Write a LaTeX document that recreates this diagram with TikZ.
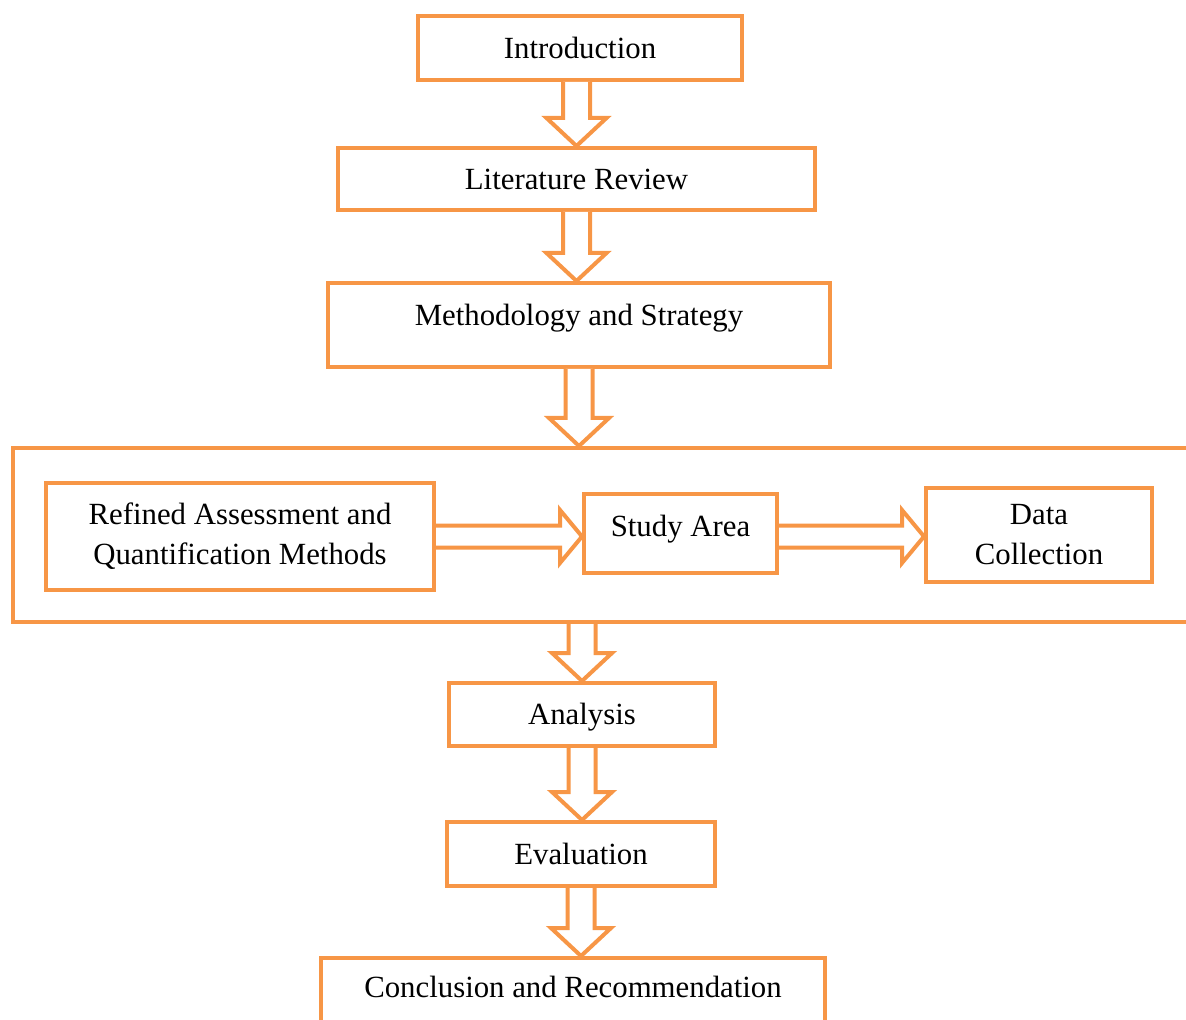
\documentclass[tikz,border=0pt]{standalone}
\usepackage{fontspec}
\setmainfont{Liberation Serif}
\usepackage{tikz}
\usetikzlibrary{calc}
\definecolor{boxorange}{HTML}{F79646}

% hollow block arrows between two points
\newcommand{\vblock}[2]{%
	\draw[blockarrow] let \p1=(#1), \p2=(#2) in
		(\x1-6.75pt,\y1) -- (\x1-6.75pt,\y2+14pt) -- (\x1-15pt,\y2+14pt) -- (\x1,\y2)
		-- (\x1+15pt,\y2+14pt) -- (\x1+6.75pt,\y2+14pt) -- (\x1+6.75pt,\y1);
}
\newcommand{\hblock}[2]{%
	\draw[blockarrow] let \p1=(#1), \p2=(#2) in
		(\x1,\y1+5.5pt) -- (\x2-11pt,\y1+5.5pt) -- (\x2-11pt,\y1+13.25pt) -- (\x2,\y1)
		-- (\x2-11pt,\y1-13.25pt) -- (\x2-11pt,\y1-5.5pt) -- (\x1,\y1-5.5pt);
}

\begin{document}
\begin{tikzpicture}[x=0.5pt,y=-0.5pt,
		box/.style={draw=boxorange,line width=2pt,fill=white,rectangle,inner sep=0pt,
			font=\fontsize{15.4}{20}\selectfont,align=center},
		blockarrow/.style={draw=boxorange,line width=2pt,fill=white,line join=miter}]
			\useasboundingbox (0,0) rectangle (1186,1020);
			\clip (0,0) rectangle (1186,1020);
			
			% main column
			
			\node[box,minimum width=162pt,minimum height=32pt] (intro) at (580,48) {Introduction};
			\node[box,minimum width=238.5pt,minimum height=31pt] (lit) at (576.5,179) {Literature Review};
			\node[box,minimum width=251pt,minimum height=42pt,text depth=10pt] (meth) at (579,325) {Methodology and Strategy};
			
			% study frame
			
			\node[box,minimum width=593.5pt,minimum height=87pt] (frame) at (606.5,535) {};
			\node[box,minimum width=194pt,minimum height=53.5pt] (refined) at (240,536.5) {Refined Assessment and\\Quantification Methods};
			\node[box,minimum width=96.5pt,minimum height=39.5pt,text depth=8pt] (study) at (680.5,533.5) {Study Area};
			\node[box,minimum width=113pt,minimum height=47pt] (data) at (1039,535) {Data\\Collection};
			
			\node[box,minimum width=133pt,minimum height=31.5pt,text height=13.5pt] (ana) at (582,714.5) {Analysis};
			\node[box,minimum width=134pt,minimum height=32pt] (eval) at (581,854) {Evaluation};
			\node[box,minimum width=252pt,minimum height=42pt,text depth=13pt] (concl) at (573,1000) {Conclusion and Recommendation};
			
			% arrows
			
			\vblock{intro.south -| lit.north}{lit.north}
			\vblock{lit.south}{meth.north -| lit.south}
			\vblock{meth.south}{meth.south |- frame.north}
			\vblock{ana.north |- frame.south}{ana.north}
			\vblock{ana.south}{eval.north}
			\vblock{eval.south}{concl.north -| eval.south}
			\hblock{refined.east}{study.west}
			\hblock{study.east |- refined.east}{data.west}
			
		\end{tikzpicture}
\end{document}
